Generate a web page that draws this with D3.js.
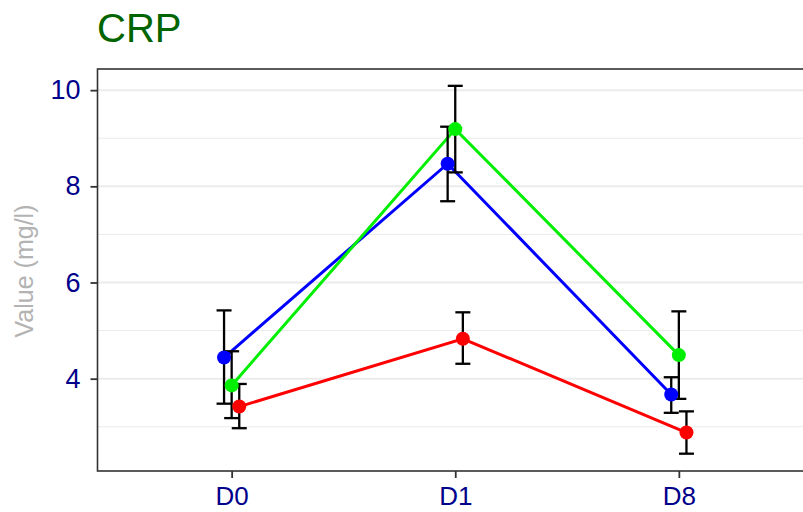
<!DOCTYPE html>
<html>
<head>
  <meta charset='utf-8'>
  <script src="https://cdn.jsdelivr.net/npm/d3@7"></script>
  <style>
    body { margin: 0; background: #fff; }
    text { font-family: "Liberation Sans", Arial, sans-serif; }
  </style>
</head>
<body>
  <script>
    // data
    const categories = ["D0", "D1", "D8"]
    const groups = ["blue", "green", "red"]
    const groupColors = ["#0000ff", "#00ee00", "#ff0000"]
    const meanBlue = [4.44, 8.47, 3.67]
    const lowBlue = [3.48, 7.69, 3.29]
    const highBlue = [5.42, 9.24, 4.03]
    const meanGreen = [3.86, 9.19, 4.49]
    const lowGreen = [3.18, 8.29, 3.58]
    const highGreen = [4.57, 10.09, 5.40]
    const meanRed = [3.42, 4.83, 2.88]
    const lowRed = [2.97, 4.31, 2.44]
    const highRed = [3.89, 5.38, 3.32]
    const yTicks = [4, 6, 8, 10]
    const yMinor = [3, 5, 7, 9]

    let w = 803
    let h = 512
    let pLeft = 97.5, pTop = 69, pBottom = 471, pRight = 813

    let series = [
      { name: groups[0], color: groupColors[0], mean: meanBlue, low: lowBlue, high: highBlue, off: -1 },
      { name: groups[1], color: groupColors[1], mean: meanGreen, low: lowGreen, high: highGreen, off: 0 },
      { name: groups[2], color: groupColors[2], mean: meanRed, low: lowRed, high: highRed, off: 1 }
    ]

    let xScale = d3.scalePoint()
      .domain(categories)
      .range([pLeft, pRight])
      .padding(0.6)

    let dodge = xScale.step() * 0.034

    let yScale = d3.scaleLinear()
      .domain([2.08, 10.44])
      .range([pBottom, pTop])

    let svg = d3.select('body').append('svg')
      .attr('width', w)
      .attr('height', h)

    // grid
    svg.append('g').selectAll('line').data(yMinor).join('line')
      .attr('x1', pLeft).attr('x2', pRight)
      .attr('y1', d => yScale(d)).attr('y2', d => yScale(d))
      .attr('stroke', '#ebebeb').attr('stroke-width', 1)
    svg.append('g').selectAll('line').data(yTicks).join('line')
      .attr('x1', pLeft).attr('x2', pRight)
      .attr('y1', d => yScale(d)).attr('y2', d => yScale(d))
      .attr('stroke', '#ebebeb').attr('stroke-width', 2)

    // lines
    let line = d3.line()
      .x((d, i) => xScale(categories[i]))
      .y(d => yScale(d))

    let sg = svg.append('g')
    series.forEach(s => {
      let g = sg.append('g').attr('transform', 'translate(' + (s.off * dodge) + ',0)')
      g.append('path')
        .datum(s.mean)
        .attr('fill', 'none')
        .attr('stroke', s.color)
        .attr('stroke-width', 3)
        .attr('d', line)
    })

    // error bars
    series.forEach(s => {
      let g = sg.append('g').attr('transform', 'translate(' + (s.off * dodge) + ',0)')
      let eb = g.selectAll('g.eb').data(categories).join('g').attr('class', 'eb')
      eb.append('line')
        .attr('x1', d => xScale(d)).attr('x2', d => xScale(d))
        .attr('y1', (d, i) => yScale(s.low[i])).attr('y2', (d, i) => yScale(s.high[i]))
      eb.append('line')
        .attr('x1', d => xScale(d) - 7.5).attr('x2', d => xScale(d) + 7.5)
        .attr('y1', (d, i) => yScale(s.low[i])).attr('y2', (d, i) => yScale(s.low[i]))
      eb.append('line')
        .attr('x1', d => xScale(d) - 7.5).attr('x2', d => xScale(d) + 7.5)
        .attr('y1', (d, i) => yScale(s.high[i])).attr('y2', (d, i) => yScale(s.high[i]))
      eb.selectAll('line').attr('stroke', '#000').attr('stroke-width', 2.3)
    })

    // points
    series.forEach(s => {
      let g = sg.append('g').attr('transform', 'translate(' + (s.off * dodge) + ',0)')
      g.selectAll('circle').data(s.mean).join('circle')
        .attr('cx', (d, i) => xScale(categories[i]))
        .attr('cy', d => yScale(d))
        .attr('r', 7)
        .attr('fill', s.color)
    })

    // panel border
    svg.append('rect')
      .attr('x', pLeft).attr('y', pTop)
      .attr('width', pRight - pLeft).attr('height', pBottom - pTop)
      .attr('fill', 'none').attr('stroke', '#333').attr('stroke-width', 1.6)

    // axes
    let yAxis = d3.axisLeft(yScale).tickValues(yTicks).tickSize(7).tickPadding(10)
    let ya = svg.append('g').attr('transform', 'translate(' + pLeft + ',0)').call(yAxis)
    ya.select('.domain').remove()
    ya.selectAll('.tick line').attr('stroke', '#333').attr('stroke-width', 1.8)
    ya.selectAll('.tick text').attr('fill', '#00008b').attr('font-size', 27)
      .attr('font-family', '"Liberation Sans", Arial, sans-serif')

    let xAxis = d3.axisBottom(xScale).tickSize(7).tickPadding(9)
    let xa = svg.append('g').attr('transform', 'translate(0,' + pBottom + ')').call(xAxis)
    xa.select('.domain').remove()
    xa.selectAll('.tick line').attr('stroke', '#333').attr('stroke-width', 1.8)
    xa.selectAll('.tick text').attr('fill', '#00008b').attr('font-size', 26)
      .attr('font-family', '"Liberation Sans", Arial, sans-serif')

    // titles
    svg.append('text')
      .attr('x', 97).attr('y', 42)
      .attr('fill', '#006400')
      .attr('font-size', 40)
      .text('CRP')

    svg.append('text')
      .attr('transform', 'translate(33,271) rotate(-90)')
      .attr('text-anchor', 'middle')
      .attr('fill', '#b3b3b3')
      .attr('font-size', 25)
      .text('Value (mg/l)')
  </script>
</body>
</html>
